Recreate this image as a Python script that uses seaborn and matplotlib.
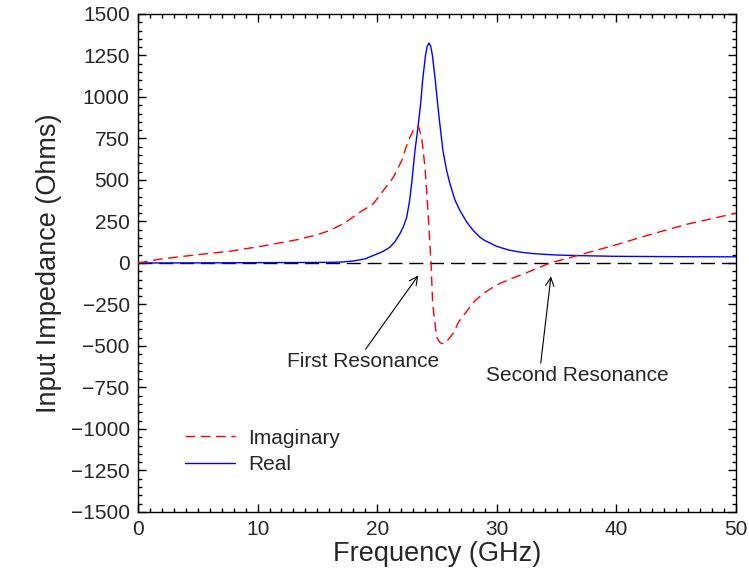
import matplotlib
matplotlib.use("Agg")
import matplotlib.pyplot as plt
import seaborn as sns
import pandas as pd
from matplotlib.ticker import MultipleLocator

# ---- data ----
freq_real = [0, 5, 10, 14, 16, 16.9, 18, 19, 19.67, 20.5, 21.07, 21.5, 21.9, 22.2, 22.47,
             22.7, 22.88, 23.16, 23.4, 23.66, 23.8, 24.04, 24.18, 24.33, 24.48, 24.62,
             24.86, 25.03, 25.25, 25.5, 25.8, 26.09, 26.5, 26.92, 27.5, 28.04, 28.6, 29,
             30, 31, 32, 33, 34, 35, 37, 40, 45, 50]
real = [0, 0.5, 2, 3, 4, 5, 12, 25, 45, 70, 95, 130, 176, 220, 276,
        370, 476, 677, 810, 977, 1100, 1250, 1305, 1325, 1305, 1250,
        1100, 977, 830, 677, 560, 476, 380, 316, 245, 195, 155, 135,
        100, 78, 65, 57, 52, 48, 44, 40, 38, 37]

freq_imag = [0, 2, 5, 7.7, 10.5, 13.3, 15, 16, 17.17, 18.56, 19.67, 20.51, 21.35, 22.05,
             22.6, 23.08, 23.44, 23.72, 24.0, 24.19, 24.36, 24.5, 24.64, 24.97, 25.25,
             25.55, 25.9, 26.4, 26.8, 27.5, 28.2, 29, 29.6, 30.3, 31, 32.4, 33.75, 34.45,
             36, 37, 40, 43, 46, 50]
imag = [0, 25, 50, 71, 103, 140, 170, 195, 236, 306, 356, 436, 516, 616,
        737, 807, 827, 757, 576, 376, 176, 5, -245, -446, -480,
        -487, -465, -420, -356, -290, -225, -178, -150, -122, -101, -61, -21, 0,
        30, 50, 110, 175, 235, 300]

x_ticks = [0, 10, 20, 30, 40, 50]
y_ticks = [-1500, -1250, -1000, -750, -500, -250, 0, 250, 500, 750, 1000, 1250, 1500]

df_real = pd.DataFrame({"Frequency": freq_real, "Value": real})
df_imag = pd.DataFrame({"Frequency": freq_imag, "Value": imag})

sns.set_style("ticks")
plt.rcParams["font.family"] = ["Liberation Sans", "DejaVu Sans"]

fig = plt.figure(figsize=(7.49, 5.73), dpi=100)
ax = fig.add_axes([0.1842, 0.1065, 0.7984, 0.8691])

ax.axhline(0, color="black", lw=1.0, dashes=(10, 5), zorder=1)
sns.lineplot(data=df_imag, x="Frequency", y="Value", ax=ax, color="red", lw=1.0,
             dashes=False, linestyle=(0, (7, 4)), label="Imaginary", sort=False,
             estimator=None, zorder=3)
sns.lineplot(data=df_real, x="Frequency", y="Value", ax=ax, color="blue", lw=1.0,
             label="Real", sort=False, estimator=None, zorder=2)

ax.set_xlim(0, 50)
ax.set_ylim(-1500, 1500)
ax.set_xticks(x_ticks)
ax.set_yticks(y_ticks)
ax.xaxis.set_minor_locator(MultipleLocator(1))
ax.yaxis.set_minor_locator(MultipleLocator(50))
ax.tick_params(which="both", direction="in", top=True, right=True, labelsize=15,
               color="black", width=1.0)
ax.tick_params(which="major", length=6, pad=6)
ax.tick_params(which="minor", length=3)
for s in ax.spines.values():
    s.set_linewidth(1.0)
    s.set_color("black")

ax.set_xlabel("Frequency (GHz)", fontsize=19.5, labelpad=1)
ax.set_ylabel("Input Impedance (Ohms)", fontsize=19.5, labelpad=6)

ax.annotate("First Resonance", xy=(23.44, -75), xytext=(18.84, -596),
            ha="center", va="center", fontsize=15,
            arrowprops=dict(arrowstyle="->", color="black", lw=0.8,
                            shrinkA=0, shrinkB=0,
                            relpos=(0.5, 1.0)))
ax.annotate("Second Resonance", xy=(34.53, -81), xytext=(36.7, -680),
            ha="center", va="center", fontsize=15,
            arrowprops=dict(arrowstyle="->", color="black", lw=0.8,
                            shrinkA=0, shrinkB=0,
                            relpos=(0.3, 1.0)))

leg = ax.legend(loc="upper left", bbox_to_anchor=(0.048, 0.205), frameon=False,
                fontsize=15, handlelength=2.4, handletextpad=0.6, labelspacing=0.35)

fig.savefig("out.png", dpi=100)
